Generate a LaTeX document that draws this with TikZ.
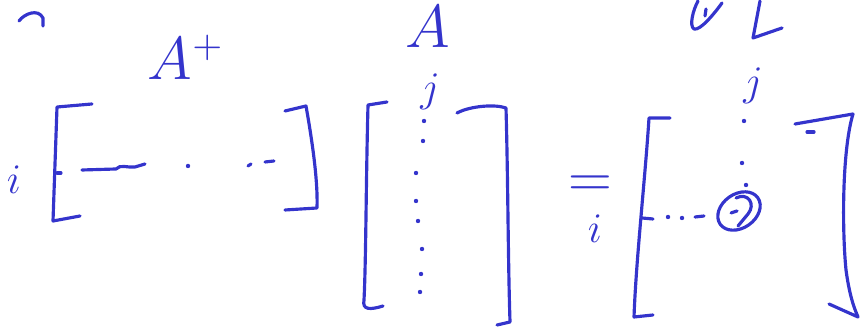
\documentclass[tikz,border=0pt]{standalone}
\usepackage{tikz}
\definecolor{ink}{RGB}{52,52,204}

\begin{document}
\begin{tikzpicture}[x=0.1mm, y=-0.1mm, ink, line width=0.9pt, line cap=round, line join=round]
  \tikzset{
    lbl/.style={text=ink, inner sep=0pt, font=\fontsize{16}{18}\selectfont},
    idx/.style={text=ink, inner sep=0pt, font=\fontsize{13}{15}\selectfont},
    pen/.style={draw=ink, line width=0.9pt},
  }
  \def\dotr{0.22mm} % radius of the pen dots
  \useasboundingbox (0,0) rectangle (866,327);
  % ---------- strokes cut by the top edge ----------
  \draw[pen] (19,21) .. controls (24,14) and (38,8) .. (43,18) -- (43,26);
  \draw[pen] (698,1) .. controls (693,10) and (689,26) .. (694,29) .. controls (700,31) and (714,14) .. (722,3);
  \draw[pen] (705,16) -- (706,9);
  \draw[pen] (760,1) -- (753,38) -- (782,28);
  % ---------- first factor: A^+ ----------
  \node[lbl] (Aplus) at (186,57) {$A^{+}$};
  \node[idx] (irow) at (14,180) {$i$};
  \draw[pen] (92,104) -- (57,107) -- (53,221) -- (80,216);   % left bracket
  \draw[pen] (285,111) -- (306,106) .. controls (312,140) and (318,180) .. (317,208) -- (285,210); % right bracket
  % the row i
  \draw[pen] (57,173) -- (61,173);
  \draw[pen] (82,170) -- (116,169) .. controls (120,164) and (128,168) .. (135,167) -- (145,164);
  \fill (188,166) circle (\dotr);
  \draw[pen] (248,166) -- (251,164);
  \draw[pen] (265,162) -- (274,161);
  % ---------- second factor: A ----------
  \node[lbl] (A) at (428,27) {$A$};
  \node[idx] (jcol) at (430,92) {$j$};
  \draw[pen] (387,102) -- (368,105) .. controls (366,180) and (366,260) .. (364,300) .. controls (362,310) and (370,310) .. (383,306); % left bracket
  \draw[pen] (457,113) .. controls (470,106) and (495,104) .. (506,108) .. controls (508,180) and (508,260) .. (510,322) -- (497,325); % right bracket
  % the column j
  \foreach \y/\x in {121/424, 141/423, 173/416, 201/416, 221/418, 249/422, 274/421, 292/420}
    \fill (\x,\y) circle (\dotr);
  % ---------- the product ----------
  \node[lbl] (eq) at (590,187) {$=$};
  \node[idx] (irow2) at (595,229) {$i$};
  \node[idx] (jcol2) at (753,86) {$j$};
  \draw[pen] (670,118) -- (649,118) .. controls (645,180) and (636,260) .. (634,317) -- (653,315); % left bracket
  \draw[pen] (795,124) -- (853,114) .. controls (842,150) and (842,230) .. (846,270) .. controls (850,300) and (856,312) .. (858,317) -- (829,304); % right bracket
  \draw[pen] (807,132) -- (814,132);
  % column j down to the entry
  \foreach \y/\x in {121/744, 163/742, 185/746}
    \fill (\x,\y) circle (\dotr);
  % row i across to the entry
  \draw[pen] (642,218) -- (653,219);
  \fill (668,217) circle (\dotr);
  \fill (682,218) circle (\dotr);
  \draw[pen] (695,217) -- (704,216);
  % the circled entry (i,j)
  \draw[pen, rotate around={35:(739,211)}] (739,211) ellipse [x radius=2.3mm, y radius=1.7mm];
  \draw[pen] (736,198) .. controls (748,192) and (756,204) .. (748,214) -- (738,226);
  \draw[pen] (731,213) -- (737,211);
\end{tikzpicture}
\end{document}
